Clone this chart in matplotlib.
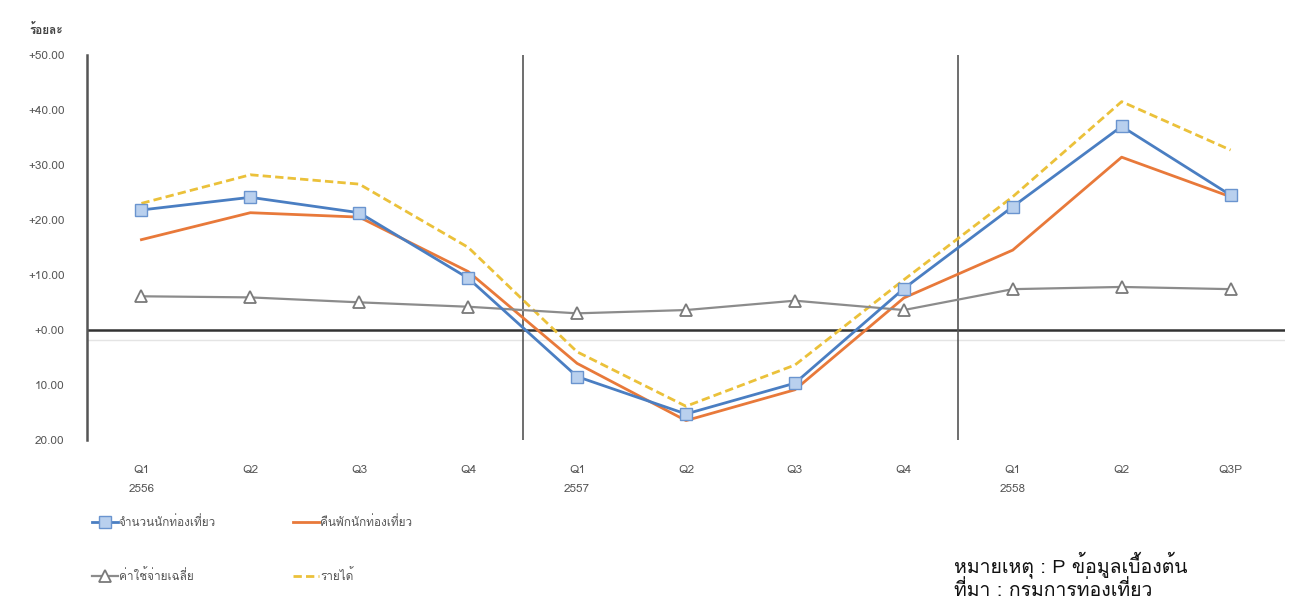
import matplotlib
matplotlib.use('Agg')
import matplotlib.pyplot as plt
from matplotlib import font_manager
from matplotlib.ft2font import FT2Font

# หา font ที่มีอักษรไทย
thai_fams = []
for f in font_manager.fontManager.ttflist:
    try:
        if 0x0E01 in FT2Font(f.fname).get_charmap():
            if f.name not in thai_fams:
                thai_fams.append(f.name)
    except Exception:
        pass
if 'Loma' in thai_fams:
    thai_fams.remove('Loma')
    thai_fams.insert(0, 'Loma')

plt.rcParams['font.family'] = thai_fams + ['DejaVu Sans']
plt.rcParams['axes.unicode_minus'] = False

# ข้อมูล (อัตราการเปลี่ยนแปลง ร้อยละ)
quarters = ['Q1\n2556', 'Q2', 'Q3', 'Q4', 'Q1\n2557', 'Q2', 'Q3', 'Q4', 'Q1\n2558', 'Q2', 'Q3P']
tourists = [21.8, 24.1, 21.3, 9.4, -8.5, -15.3, -9.7, 7.5, 22.4, 37.0, 24.5]
nights = [16.4, 21.3, 20.5, 10.6, -6.1, -16.5, -10.9, 5.8, 14.5, 31.4, 24.2]
spending = [6.1, 5.9, 5.0, 4.2, 3.0, 3.6, 5.3, 3.6, 7.4, 7.8, 7.4]
revenue = [23.0, 28.2, 26.5, 15.0, -4.0, -13.9, -6.4, 9.1, 24.2, 41.5, 32.7]
yticks = [50, 40, 30, 20, 10, 0, -10, -20]
ytick_labels = ['+50.00', '+40.00', '+30.00', '+20.00', '+10.00', '+0.00', '10.00', '20.00']

fig = plt.figure(figsize=(12.98, 6.10), dpi=100)
ax = fig.add_axes([0.067, 0.279, 0.923, 0.631])

x = list(range(len(quarters)))
l1, = ax.plot(x, tourists, color='#4A7EC2', lw=2, marker='s', ms=9,
              mfc='#B9D0EE', mec='#6A94CF', label='จำนวนนักท่องเที่ยว', zorder=4)
l2, = ax.plot(x, nights, color='#E8793A', lw=2, label='คืนพักนักท่องเที่ยว', zorder=3)
l3, = ax.plot(x, spending, color='#8C8C8C', lw=1.6, marker='^', ms=9,
              mfc='white', mec='#7A7A7A', mew=1.3, label='ค่าใช้จ่ายเฉลี่ย', zorder=3)
l4, = ax.plot(x, revenue, color='#EBC13A', lw=2, ls=(0, (3, 1.5)), label='รายได้', zorder=2)

# เส้นศูนย์ และเส้นแบ่งปี
ax.axhline(0, color='#333333', lw=1.8, zorder=1)
ax.axhline(-1.8, color='#e4e4e4', lw=1, zorder=0)
ax.axvline(3.5, color='#555555', lw=1.2, zorder=1)
ax.axvline(7.5, color='#555555', lw=1.2, zorder=1)

ax.set_xlim(-0.5, 10.5)
ax.set_ylim(-20, 50)
ax.set_yticks(yticks)
ax.set_yticklabels(ytick_labels, color='#555555', fontsize=8.5)
ax.set_xticks(x)
ax.set_xticklabels(quarters, color='#555555', fontsize=8.5, linespacing=2.2)
ax.tick_params(axis='both', length=0)
ax.tick_params(axis='y', pad=16)
ax.tick_params(axis='x', pad=18)

for s in ['top', 'right', 'bottom']:
    ax.spines[s].set_visible(False)
ax.spines['left'].set_color('#555555')
ax.spines['left'].set_linewidth(1.8)

fig.text(0.036, 0.952, 'ร้อยละ', fontsize=8.5, fontweight='bold', color='#444444', ha='center', va='center')

# legend 2 แถว: แถวบน จำนวน/คืนพัก, แถวล่าง ค่าใช้จ่าย/รายได้
ax.legend([l1, l3, l2, l4], [l1.get_label(), l3.get_label(), l2.get_label(), l4.get_label()],
          loc='upper left', bbox_to_anchor=(0.0, -0.184), ncol=2, frameon=False,
          fontsize=8.5, handlelength=2.2, handletextpad=0.1, columnspacing=6.5,
          labelspacing=3.4, labelcolor='#555555', borderaxespad=0)

fig.text(0.735, 0.075, 'หมายเหตุ : P ข้อมูลเบื้องต้น', fontsize=14, color='#111111', va='center')
fig.text(0.735, 0.032, 'ที่มา : กรมการท่องเที่ยว', fontsize=14, color='#111111', va='center')

fig.savefig('out.png', dpi=100)
